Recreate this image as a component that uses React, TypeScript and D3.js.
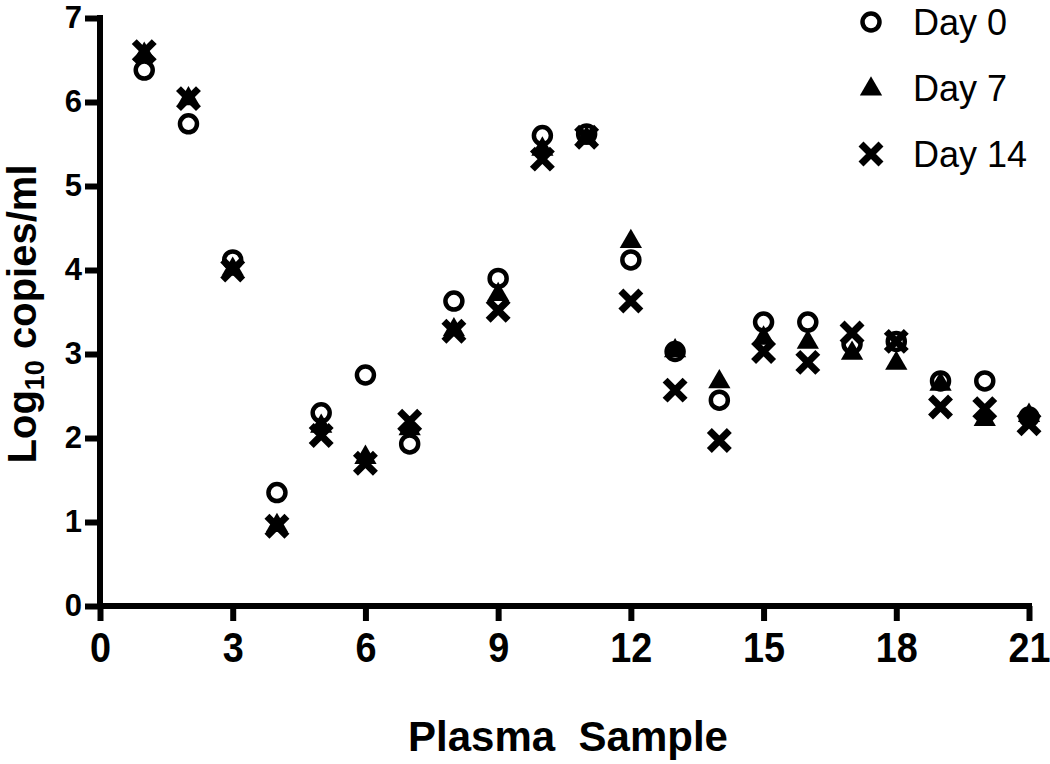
import React, { useEffect, useRef } from 'react';
import * as d3 from 'd3';

const samples = d3.range(1, 22);
const day0 = [6.38, 5.74, 4.12, 1.35, 2.3, 2.75, 1.93, 3.63, 3.9, 5.6, 5.62, 4.12, 3.03, 2.45, 3.38, 3.38, 3.12, 3.15, 2.68, 2.68, 2.25];
const day7 = [6.58, 6.05, 4.02, 0.97, 2.15, 1.78, 2.12, 3.3, 3.72, 5.45, 5.58, 4.35, 3.05, 2.68, 3.2, 3.15, 3.02, 2.9, 2.65, 2.23, 2.28];
const day14 = [6.6, 6.04, 4.0, 0.95, 2.03, 1.7, 2.2, 3.27, 3.52, 5.32, 5.58, 3.63, 2.57, 1.97, 3.03, 2.9, 3.25, 3.15, 2.37, 2.35, 2.17];
const xTicks = [0, 3, 6, 9, 12, 15, 18, 21];
const yTicks = [0, 1, 2, 3, 4, 5, 6, 7];
const seriesNames = ['Day 0', 'Day 7', 'Day 14'];

const FONT = '"Liberation Sans", Arial, sans-serif';

export default function App() {
  const ref = useRef<SVGSVGElement>(null);

  useEffect(() => {
    if (!ref.current) return;
    const svg = d3.select(ref.current);
    svg.selectAll('*').remove();

    const x = d3.scaleLinear().domain([0, 21]).range([100, 1029]);
    const y = d3.scaleLinear().domain([0, 7]).range([606, 18]);

    const g = svg.append('g');

    // axes
    const xAxis = g.append('g').attr('transform', `translate(0,${y(0)})`)
      .call(d3.axisBottom(x).tickValues(xTicks).tickSize(15).tickSizeOuter(0).tickPadding(6));
    const yAxis = g.append('g').attr('transform', `translate(${x(0)},0)`)
      .call(d3.axisLeft(y).tickValues(yTicks).tickFormat(d3.format('d')).tickSize(15).tickSizeOuter(0).tickPadding(3));

    [xAxis, yAxis].forEach((a) => {
      a.select('.domain').attr('stroke', '#000').attr('stroke-width', 6);
      a.selectAll('.tick line').attr('stroke', '#000').attr('stroke-width', 6);
    });
    xAxis.selectAll('.tick text')
      .attr('fill', '#000')
      .attr('y', 56)
      .attr('dy', null)
      .attr('transform', 'scale(0.9,1)')
      .style('font-family', FONT)
      .style('font-weight', 'bold')
      .style('font-size', '42px');
    yAxis.selectAll('.tick text')
      .attr('fill', '#000')
      .style('font-family', FONT)
      .style('font-weight', 'bold')
      .style('font-size', '31px');

    // extend domains to cover the line caps
    xAxis.select('.domain').attr('d', `M${x(0) - 3},0H${x(21) + 3}`);
    yAxis.select('.domain').attr('d', `M0,${y(0) + 3}V${y(7) - 3}`);

    // titles
    svg.append('text')
      .attr('x', 568).attr('y', 751)
      .attr('text-anchor', 'middle')
      .attr('xml:space', 'preserve')
      .style('font-family', FONT)
      .style('font-weight', 'bold')
      .style('font-size', '42px')
      .text('Plasma  Sample');

    const yl = svg.append('text')
      .attr('transform', `translate(36,${314}) rotate(-90)`)
      .attr('text-anchor', 'middle')
      .style('font-family', FONT)
      .style('font-weight', 'bold')
      .style('font-size', '40px');
    yl.append('tspan').text('Log');
    yl.append('tspan').attr('font-size', '27px').attr('dy', 8).text('10');
    yl.append('tspan').attr('dy', -8).text(' copies/ml');

    const triangle = d3.symbol().type(d3.symbolTriangle).size(215);

    const drawCircle = (sel: any, cx: number, cy: number) =>
      sel.append('circle').attr('cx', cx).attr('cy', cy).attr('r', 8.5)
        .attr('fill', 'none').attr('stroke', '#000').attr('stroke-width', 4.5);
    const drawTri = (sel: any, cx: number, cy: number) =>
      sel.append('path').attr('d', triangle()).attr('transform', `translate(${cx},${cy + 1})`).attr('fill', '#000');
    const drawX = (sel: any, cx: number, cy: number) => {
      const s = 10;
      sel.append('path')
        .attr('d', `M${cx - s},${cy - s}L${cx + s},${cy + s}M${cx + s},${cy - s}L${cx - s},${cy + s}`)
        .attr('stroke', '#000').attr('stroke-width', 7).attr('fill', 'none');
    };

    const marks = g.append('g');
    samples.forEach((s, i) => drawCircle(marks, x(s), y(day0[i])));
    samples.forEach((s, i) => drawTri(marks, x(s), y(day7[i])));
    samples.forEach((s, i) => drawX(marks, x(s), y(day14[i])));

    // legend
    const drawers = [drawCircle, drawTri, drawX];
    const lg = svg.append('g');
    seriesNames.forEach((name, i) => {
      const ly = 22 + i * 66;
      drawers[i](lg, 871, ly);
      lg.append('text')
        .attr('x', 913).attr('y', ly)
        .attr('dy', '0.35em')
        .style('font-family', FONT)
        .style('font-size', '36px')
        .text(name);
    });
  }, []);

  return <svg ref={ref} width={1050} height={764} style={{ position: 'absolute', left: 0, top: 0, background: '#fff' }} />;
}
